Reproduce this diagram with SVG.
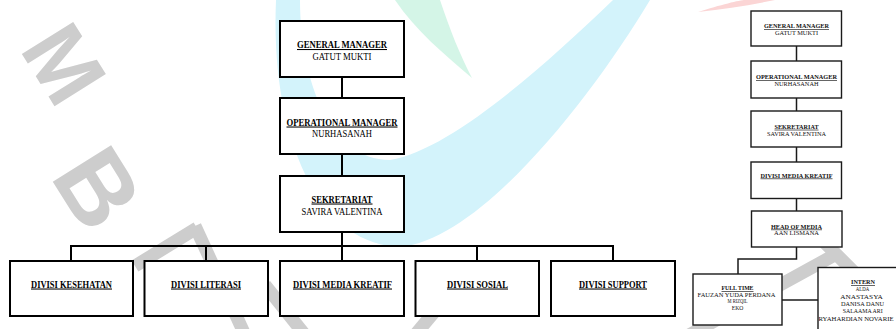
<svg xmlns="http://www.w3.org/2000/svg" width="896" height="329" viewBox="0 0 896 329">
<style>
.bg{fill:#ffffff}
.wm{font-family:"Liberation Sans",Arial,sans-serif;font-weight:bold;dominant-baseline:central;fill:#cdcdcd}
.wl{stroke:#cdcdcd;stroke-width:13;fill:none}
.bx{fill:#ffffff;stroke:#000000;stroke-width:2}
.bs{fill:#ffffff;stroke:#1a1a1a;stroke-width:1.4}
.cn{stroke:#000000;stroke-width:2;fill:none}
.cs{stroke:#1a1a1a;stroke-width:1.5;fill:none}
text{font-family:"Liberation Serif","Times New Roman",serif;fill:#000000;text-anchor:middle}
.t{font-size:10.5px;font-weight:bold;text-decoration:underline}
.n{font-size:10.5px}
.ts{font-size:6.5px;font-weight:bold;text-decoration:underline;fill:#111}
.ns{font-size:6.5px;fill:#111}
</style>
<rect class="bg" x="0" y="0" width="896" height="329"/>
<g id="watermark">
<path d="M276,0 C270,140 320,245 400,247 C480,240 590,100 650,0 L613,0 C540,70 450,150 390,160 C330,160 300,80 300,0 Z" fill="#d3f3fb"/>
<path d="M395,0 L440,0 C450,30 460,55 472,78 C445,55 415,30 395,0 Z" fill="#d4f5e7"/>
<path d="M698,12 C720,5 740,0 745,0 L775,0 C750,5 725,9 698,12 Z" fill="#fbd5d5"/>
<text class="wm" x="0" y="0" transform="translate(64,64) rotate(58)" style="font-size:88px">M</text>
<text class="wm" x="0" y="0" transform="translate(98,188) rotate(58)" style="font-size:100px">B</text>
<line class="wl" x1="197" y1="228" x2="135" y2="266"/>
<line class="wl" x1="195" y1="226" x2="245" y2="335"/>
<line class="wl" x1="265" y1="285" x2="305" y2="335"/>
<line class="wl" x1="440" y1="305" x2="415" y2="335"/>
<line class="wl" x1="808" y1="226" x2="900" y2="318"/>
<line class="wl" x1="840" y1="252" x2="680" y2="340"/>
</g>
<g id="connectors">
<line class="cn" x1="342" y1="77" x2="342" y2="98"/>
<line class="cn" x1="342" y1="154" x2="342" y2="176"/>
<line class="cn" x1="342" y1="232" x2="342" y2="261"/>
<line class="cn" x1="70" y1="246" x2="614" y2="246"/>
<line class="cn" x1="71" y1="246" x2="71" y2="261"/>
<line class="cn" x1="206" y1="246" x2="206" y2="261"/>
<line class="cn" x1="477" y1="246" x2="477" y2="261"/>
<line class="cn" x1="613" y1="246" x2="613" y2="261"/>
<line class="cs" x1="796.5" y1="46" x2="796.5" y2="61"/>
<line class="cs" x1="796.5" y1="98" x2="796.5" y2="111"/>
<line class="cs" x1="796.5" y1="147" x2="796.5" y2="162"/>
<line class="cs" x1="796.5" y1="198" x2="796.5" y2="211"/>
<polyline class="cs" points="796.5,247 796.5,259 738,259 738,274"/>
<line class="cs" x1="782" y1="300" x2="818" y2="300"/>
</g>
<g id="gm">
<rect class="bx" x="280" y="21" width="124" height="56"/>
<text class="t" x="342" y="48" textLength="90" lengthAdjust="spacingAndGlyphs">GENERAL MANAGER</text>
<text class="n" x="342" y="60" textLength="59" lengthAdjust="spacingAndGlyphs">GATUT MUKTI</text>
</g>
<g id="om">
<rect class="bx" x="280" y="98" width="124" height="56"/>
<text class="t" x="342" y="125.5" textLength="111" lengthAdjust="spacingAndGlyphs">OPERATIONAL MANAGER</text>
<text class="n" x="342" y="137" textLength="60" lengthAdjust="spacingAndGlyphs">NURHASANAH</text>
</g>
<g id="sek">
<rect class="bx" x="280" y="176" width="124" height="56"/>
<text class="t" x="342" y="202.5" textLength="61" lengthAdjust="spacingAndGlyphs">SEKRETARIAT</text>
<text class="n" x="342" y="214.5" textLength="81" lengthAdjust="spacingAndGlyphs">SAVIRA VALENTINA</text>
</g>
<g id="div-kesehatan">
<rect class="bx" x="10" y="261" width="123" height="55"/>
<text class="t" x="71.5" y="287.5" textLength="81" lengthAdjust="spacingAndGlyphs">DIVISI KESEHATAN</text>
</g>
<g id="div-literasi">
<rect class="bx" x="144.5" y="261" width="123.5" height="55"/>
<text class="t" x="206" y="287.5" textLength="70" lengthAdjust="spacingAndGlyphs">DIVISI LITERASI</text>
</g>
<g id="div-media">
<rect class="bx" x="280" y="261" width="124" height="55"/>
<text class="t" x="342.5" y="287.5" textLength="99" lengthAdjust="spacingAndGlyphs">DIVISI MEDIA KREATIF</text>
</g>
<g id="div-sosial">
<rect class="bx" x="415.5" y="261" width="123.5" height="55"/>
<text class="t" x="477.5" y="287.5" textLength="61" lengthAdjust="spacingAndGlyphs">DIVISI SOSIAL</text>
</g>
<g id="div-support">
<rect class="bx" x="551" y="261" width="124" height="55"/>
<text class="t" x="613" y="287.5" textLength="68" lengthAdjust="spacingAndGlyphs">DIVISI SUPPORT</text>
</g>
<g id="r-gm">
<rect class="bs" x="751" y="11" width="90.5" height="35"/>
<text class="ts" x="796.5" y="28.3" textLength="65" lengthAdjust="spacingAndGlyphs">GENERAL MANAGER</text>
<text class="ns" x="796.5" y="35.3" textLength="43" lengthAdjust="spacingAndGlyphs">GATUT MUKTI</text>
</g>
<g id="r-om">
<rect class="bs" x="751" y="61" width="90.5" height="37"/>
<text class="ts" x="796.5" y="79" textLength="81" lengthAdjust="spacingAndGlyphs">OPERATIONAL MANAGER</text>
<text class="ns" x="796.5" y="86" textLength="44" lengthAdjust="spacingAndGlyphs">NURHASANAH</text>
</g>
<g id="r-sek">
<rect class="bs" x="751" y="111" width="90.5" height="36"/>
<text class="ts" x="796.5" y="128.7" textLength="44" lengthAdjust="spacingAndGlyphs">SEKRETARIAT</text>
<text class="ns" x="796.5" y="135.5" textLength="59" lengthAdjust="spacingAndGlyphs">SAVIRA VALENTINA</text>
</g>
<g id="r-div-media">
<rect class="bs" x="751" y="162" width="90.5" height="36.5"/>
<text class="ts" x="796.5" y="177.5" textLength="72" lengthAdjust="spacingAndGlyphs">DIVISI MEDIA KREATIF</text>
</g>
<g id="r-head">
<rect class="bs" x="751.5" y="211" width="90.5" height="36"/>
<text class="ts" x="796.5" y="228.5" textLength="51" lengthAdjust="spacingAndGlyphs">HEAD OF MEDIA</text>
<text class="ns" x="796.5" y="234.8" textLength="45" lengthAdjust="spacingAndGlyphs">AAN LISMANA</text>
</g>
<g id="r-fulltime">
<rect class="bs" x="693" y="274" width="89" height="51"/>
<text class="ts" x="737.5" y="290" textLength="32" lengthAdjust="spacingAndGlyphs">FULL TIME</text>
<text class="ns" x="736.5" y="296.8" textLength="78" lengthAdjust="spacingAndGlyphs">FAUZAN YUDA PERDANA</text>
<text class="ns" x="737.5" y="303.4" textLength="20" lengthAdjust="spacingAndGlyphs">M RIZQIL</text>
<text class="ns" x="737.5" y="310" textLength="11.6" lengthAdjust="spacingAndGlyphs">EKO</text>
</g>
<g id="r-intern">
<rect class="bs" x="818" y="267.5" width="90" height="70"/>
<text class="ts" x="863" y="284.3" textLength="24" lengthAdjust="spacingAndGlyphs">INTERN</text>
<text class="ns" x="862.5" y="291" textLength="13.3" lengthAdjust="spacingAndGlyphs">ALDA</text>
<text class="ns" x="861.5" y="298.7" textLength="42.7" lengthAdjust="spacingAndGlyphs">ANASTASYA</text>
<text class="ns" x="862.5" y="306" textLength="43" lengthAdjust="spacingAndGlyphs">DANISA DANU</text>
<text class="ns" x="862.7" y="313.2" textLength="40" lengthAdjust="spacingAndGlyphs">SALAAMA ARI</text>
<text class="ns" x="818.5" y="320.7" style="text-anchor:start" textLength="75" lengthAdjust="spacingAndGlyphs">RYAHARDIAN NOVARIE</text>
</g>
</svg>
